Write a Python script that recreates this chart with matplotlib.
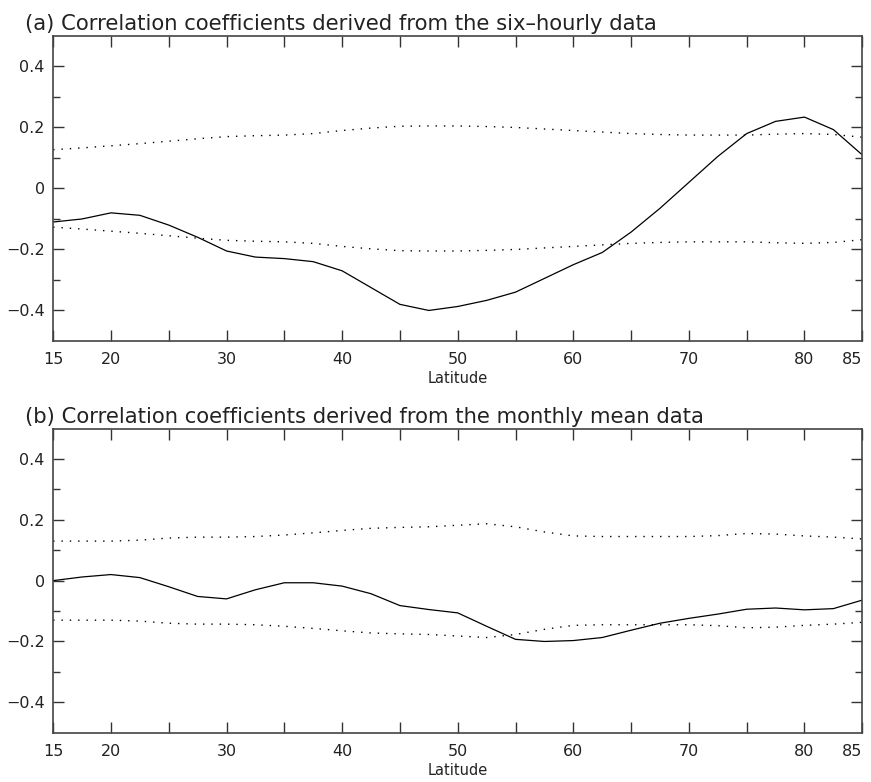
import numpy as np
from matplotlib import pyplot as plt

# latitudes every 2.5 degrees
latitudes = np.arange(15, 85.1, 2.5)

# (a) six-hourly data
corr_6h = [-0.11, -0.10, -0.08, -0.088, -0.12, -0.16, -0.205, -0.225, -0.23, -0.24,
           -0.27, -0.325, -0.38, -0.40, -0.387, -0.367, -0.34, -0.295, -0.25, -0.21,
           -0.143, -0.065, 0.02, 0.105, 0.18, 0.22, 0.234, 0.193, 0.11]
sig_6h = [0.127, 0.133, 0.14, 0.147, 0.155, 0.163, 0.17, 0.173, 0.175, 0.18,
          0.19, 0.198, 0.204, 0.205, 0.205, 0.203, 0.20, 0.195, 0.19, 0.185,
          0.18, 0.177, 0.175, 0.175, 0.175, 0.178, 0.18, 0.177, 0.168]

# (b) monthly mean data
corr_mm = [0.0, 0.012, 0.02, 0.01, -0.02, -0.052, -0.06, -0.03, -0.007, -0.007,
           -0.018, -0.043, -0.082, -0.095, -0.106, -0.15, -0.193, -0.2, -0.197, -0.187,
           -0.163, -0.14, -0.124, -0.11, -0.094, -0.09, -0.096, -0.092, -0.064]
sig_mm = [0.13, 0.13, 0.13, 0.133, 0.14, 0.143, 0.143, 0.145, 0.15, 0.157,
          0.165, 0.172, 0.175, 0.177, 0.182, 0.187, 0.177, 0.16, 0.147, 0.145,
          0.145, 0.145, 0.145, 0.148, 0.155, 0.153, 0.147, 0.143, 0.137]

titulos = ["(a) Correlation coefficients derived from the six\u2013hourly data",
           "(b) Correlation coefficients derived from the monthly mean data"]

xticks = np.arange(15, 86, 5)
xlabels = ['15', '20', '', '30', '', '40', '', '50', '', '60', '', '70', '', '80', '85']

fig = plt.figure(figsize=(8.71, 7.82), dpi=100)
posiciones = [[0.061, 0.564, 0.929, 0.39], [0.061, 0.063, 0.929, 0.389]]

for pos, titulo, corr, sig in zip(posiciones, titulos, [corr_6h, corr_mm], [sig_6h, sig_mm]):
    ax = fig.add_axes(pos)
    sig = np.array(sig)
    ax.plot(latitudes, corr, color='black', linewidth=0.9)
    ax.plot(latitudes, sig, color='black', linewidth=1.0, linestyle=(0, (1, 5)))
    ax.plot(latitudes, -sig, color='black', linewidth=1.0, linestyle=(0, (1, 5)))
    ax.set_xlim(15, 85)
    ax.set_ylim(-0.5, 0.5)
    ax.set_xticks(xticks)
    ax.set_xticklabels(xlabels)
    ax.set_yticks([-0.4, -0.2, 0, 0.2, 0.4])
    ax.set_yticklabels(['\u22120.4', '\u22120.2', '0', '0.2', '0.4'])
    ax.set_yticks([-0.3, -0.1, 0.1, 0.3], minor=True)
    ax.tick_params(which='both', direction='in', top=True, right=True, labelsize=11.5,
                   color='#333333', width=1, labelcolor='#222222')
    ax.tick_params(which='major', length=8, pad=8)
    ax.tick_params(which='minor', length=5)
    ax.tick_params(axis='y', pad=6)
    # keep the last label inside the figure
    ax.get_xticklabels()[-1].set_horizontalalignment('right')
    ax.get_xticklabels()[-1].set_x(85.6)
    for s in ax.spines.values():
        s.set_linewidth(1.2)
        s.set_color('#444444')
    ax.set_xlabel('Latitude', fontsize=10.5, labelpad=3, color='#222222')
    ax.set_title(titulo, fontsize=15.2, loc='left', x=-0.035, pad=4, color='#222222')

plt.savefig('out.png', dpi=100)
